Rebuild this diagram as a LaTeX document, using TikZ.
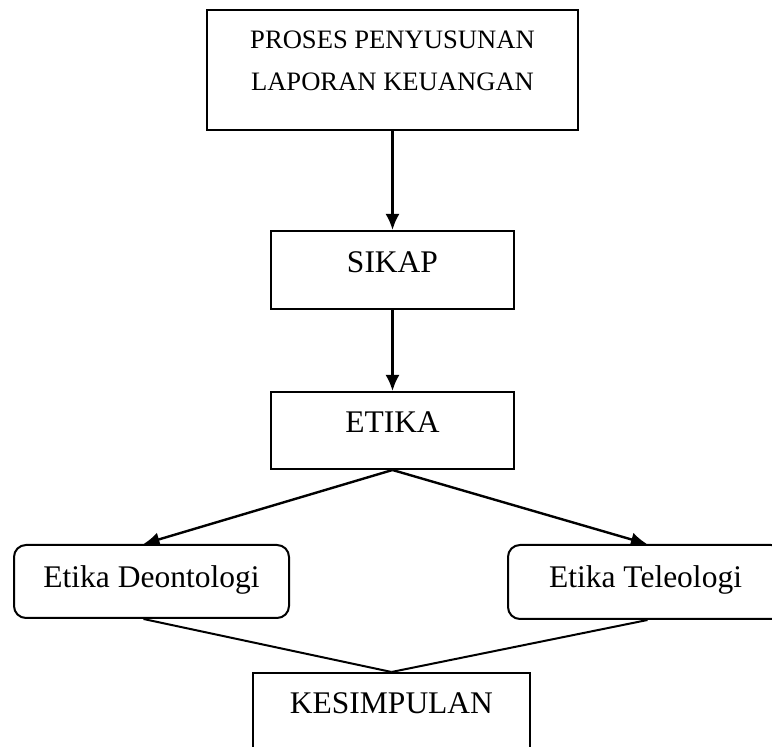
\documentclass[tikz,border=0pt]{standalone}
\usepackage{fontspec}
\setmainfont{Liberation Serif}
\usetikzlibrary{arrows.meta}

\tikzset{
    kotak/.style={draw, line width=1pt, rectangle, inner xsep=0pt, inner ysep=0pt,
        font=\fontsize{15.75}{18}\selectfont},
    kotakbulat/.style={kotak, rounded corners=6pt},
    teks kecil/.style={inner sep=0pt, font=\fontsize{13.3}{16}\selectfont},
    panah/.style={line width=1.2pt, -{Latex[length=8pt, width=7pt]}},
    garis/.style={line width=1pt}
}

\begin{document}
\begin{tikzpicture}[x=0.5pt, y=-0.5pt]
    \useasboundingbox (0,0) rectangle (772,747);

    % Top box
    \node[kotak, minimum width=185.5pt, minimum height=60pt] (proses) at (392.5,70) {};
    \node[teks kecil, anchor=base] (proses1) at (392.5,49) {PROSES PENYUSUNAN};
    \node[teks kecil, anchor=base] (proses2) at (392.5,91) {LAPORAN KEUANGAN};

    % Middle boxes
    \node[kotak, anchor=north, minimum width=121.5pt, text height=21pt, text depth=18pt] (sikap) at (392.5,230) {SIKAP};
    \node[kotak, anchor=north, minimum width=121.5pt, text height=20.5pt, text depth=18pt] (etika) at (392.5,391) {ETIKA};

    % Two kinds of ethics
    \node[kotakbulat, anchor=north, minimum width=137.5pt, text height=21.5pt, text depth=15pt] (deon) at (151.5,544) {Etika Deontologi};
    \node[kotakbulat, anchor=north, minimum width=137.5pt, text height=21.5pt, text depth=15.5pt] (teleo) at (645.5,544) {Etika Teleologi};

    % Conclusion (runs off the page)
    \node[kotak, anchor=north, minimum width=138.5pt, text height=20.5pt, text depth=24pt] (simpul) at (391.5,672) {KESIMPULAN};

    % Arrows
    \draw[panah] (proses.south) -- (sikap.north);
    \draw[panah] (sikap.south) -- (etika.north);
    \draw[panah] (etika.south) -- ([xshift=-4pt]deon.north);
    \draw[panah] (etika.south) -- ([xshift=0.75pt]teleo.north);

    % Lines to the conclusion
    \draw[garis] ([xshift=-4pt]deon.south) -- (simpul.north);
    \draw[garis] ([xshift=1pt]teleo.south) -- (simpul.north);
\end{tikzpicture}
\end{document}
